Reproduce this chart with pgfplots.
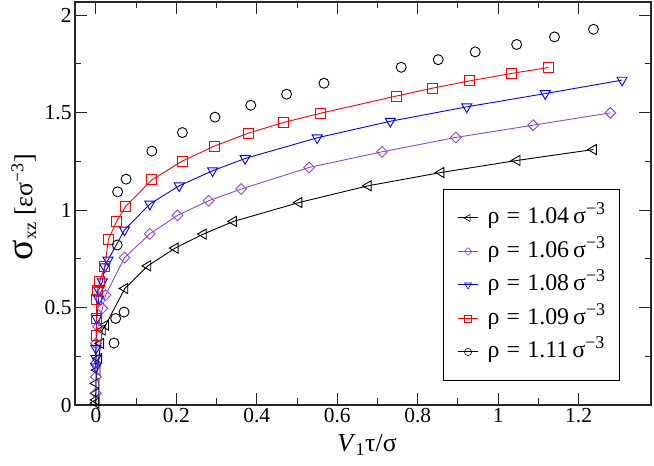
\documentclass[border=0pt]{standalone}
\usepackage{fontspec}
\setmainfont{Liberation Serif}
\usepackage{pgfplots}
\pgfplotsset{compat=1.18}
\definecolor{myviolet}{RGB}{148,70,211}
\newcommand{\leg}[1]{ρ\hspace{0.3em}=\hspace{0.3em}#1\,σ\textsuperscript{\fontsize{18}{18}\selectfont −3}}
\begin{document}
\begin{tikzpicture}
\begin{axis}[name=ax, at={(0,0)}, anchor=south west,
 width=576bp, height=403bp, scale only axis,
 xmin=-0.052, xmax=1.38, ymin=0, ymax=2.068,
 xtick={0,0.2,0.4,0.6,0.8,1,1.2}, minor x tick num=1,
 ytick={0,0.5,1,1.5,2}, minor y tick num=1,
 major tick length=12bp, minor tick length=6.5bp,
 axis line style={line width=1.2bp, black!85},
 every tick/.style={line width=1bp, black!85},
 ticklabel style={font=\fontsize{21.5}{24}\selectfont},
 /pgf/number format/assume math mode=true,
 xlabel={\textit{V}\textsubscript{1}τ/σ},
 ylabel={{\fontsize{38}{38}\selectfont σ}\textsubscript{xz} [εσ\textsuperscript{−3}]},
 xlabel style={at={(axis description cs:0.507,-0.1166)}, anchor=base, font=\fontsize{26}{28}\selectfont},
 ylabel style={at={(axis description cs:-0.089,0.491)}, anchor=center, font=\fontsize{26}{28}\selectfont},
 legend style={at={(axis description cs:0.639,0.536)}, anchor=north west,
   draw=black, line width=1bp, inner xsep=14bp, inner ysep=17.5bp, row sep=11.5bp, column sep=9bp,
   font=\fontsize{24}{26}\selectfont,
   nodes={inner sep=0pt, text height=17bp, text depth=5bp}},
 legend cell align=left,
 legend image code/.code={\path (-10bp,0bp) -- (10bp,0bp); \draw[#1] plot coordinates {(0bp,0bp)};},
 clip=false,
]
% rho = 1.04
\addplot[black, line width=0.9bp, mark=triangle, mark size=5.8bp, mark options={rotate=90, line width=0.9bp}, forget plot] coordinates {
(0.0,0.010) (0.0,0.026) (0.0,0.060) (0.0,0.111) (0.003,0.179) (0.007,0.239) (0.012,0.316) (0.016,0.385) (0.024,0.410)
(0.072,0.598) (0.129,0.714) (0.197,0.805) (0.267,0.877) (0.342,0.942) (0.505,1.039) (0.677,1.125) (0.858,1.193) (1.047,1.255) (1.237,1.311)
};
% rho = 1.06
\addplot[myviolet, line width=0.9bp, mark=square, mark size=3.8bp, mark options={rotate=45, line width=0.9bp}, forget plot] coordinates {
(0.0,0.060) (0.0,0.145) (0.0,0.214) (0.0,0.316) (0.005,0.402) (0.016,0.496) (0.024,0.564)
(0.071,0.756) (0.134,0.878) (0.203,0.973) (0.280,1.048) (0.361,1.108) (0.530,1.219) (0.711,1.299) (0.895,1.373) (1.087,1.436) (1.279,1.499)
};
% rho = 1.08
\addplot[blue, line width=0.9bp, mark=triangle, mark size=5.8bp, mark options={rotate=180, line width=0.9bp}, forget plot] coordinates {
(0.0,0.196) (0.0,0.239) (0.0,0.291) (0.002,0.445) (0.007,0.544) (0.007,0.590) (0.016,0.632) (0.022,0.709) (0.030,0.744)
(0.071,0.898) (0.134,1.031) (0.207,1.125) (0.290,1.202) (0.371,1.265) (0.550,1.371) (0.732,1.456) (0.922,1.530) (1.117,1.598) (1.308,1.667)
};
% rho = 1.09
\addplot[red, line width=0.9bp, mark=square, mark size=5bp, mark options={line width=0.9bp}, forget plot] coordinates {
(0.001,0.355) (0.001,0.445) (0.002,0.544) (0.004,0.590) (0.009,0.632) (0.022,0.709) (0.031,0.849) (0.051,0.941) (0.074,1.019)
(0.139,1.155) (0.214,1.251) (0.294,1.328) (0.379,1.395) (0.467,1.450) (0.558,1.497) (0.746,1.585) (0.837,1.626) (0.929,1.663) (1.032,1.701) (1.125,1.732)
};
% rho = 1.11
\addplot[black, only marks, mark=o, mark size=5bp, mark options={line width=0.9bp}, forget plot] coordinates {
(0.045,0.318) (0.049,0.444) (0.070,0.477) (0.053,0.821) (0.054,1.094) (0.075,1.159) (0.139,1.303) (0.215,1.398) (0.296,1.477)
(0.385,1.538) (0.474,1.595) (0.567,1.651) (0.759,1.733) (0.851,1.772) (0.943,1.812) (1.046,1.850) (1.140,1.889) (1.237,1.928)
};
\addlegendimage{black, only marks, mark=triangle, mark size=4bp, mark options={rotate=90, line width=0.6bp}}
\addlegendentry{\leg{1.04}}
\addlegendimage{myviolet, only marks, mark=square, mark size=2.7bp, mark options={rotate=45, line width=0.6bp}}
\addlegendentry{\leg{1.06}}
\addlegendimage{blue, only marks, mark=triangle, mark size=4bp, mark options={rotate=180, line width=0.6bp}}
\addlegendentry{\leg{1.08}}
\addlegendimage{red, only marks, mark=square, mark size=3.4bp, mark options={line width=0.6bp}}
\addlegendentry{\leg{1.09}}
\addlegendimage{black, only marks, mark=o, mark size=3.6bp, mark options={line width=0.6bp}}
\addlegendentry{\leg{1.11}}
\end{axis}
\pgfresetboundingbox
\path (-75bp,-61bp) rectangle (579bp,405bp);
\end{tikzpicture}
\end{document}
